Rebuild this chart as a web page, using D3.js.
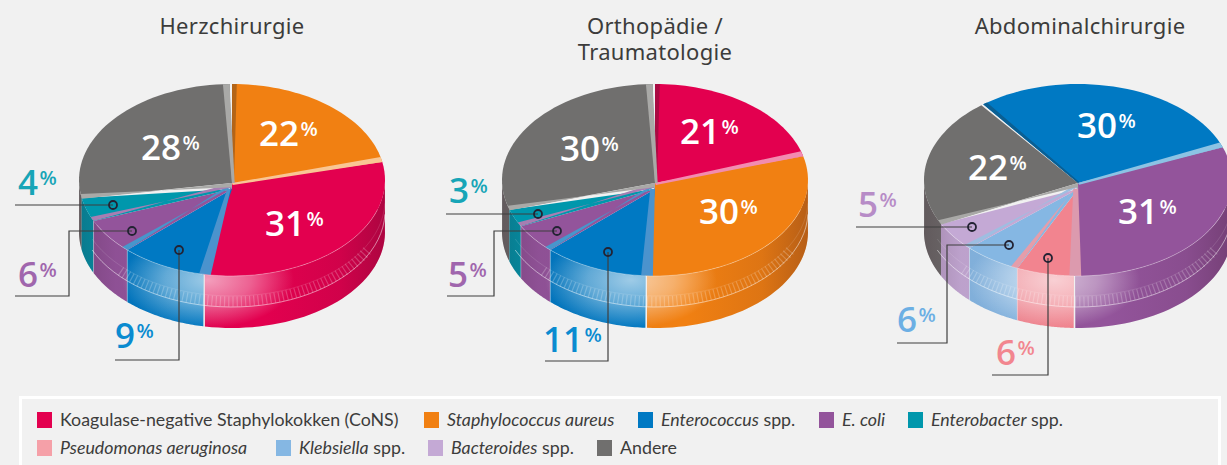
<!DOCTYPE html>
<html><head><meta charset="utf-8">
<script src="https://cdn.jsdelivr.net/npm/d3@7/dist/d3.min.js"></script>
<style>html,body{margin:0;padding:0;background:#f1f1f1;overflow:hidden}svg{display:block}</style>
</head><body><svg id="c" width="1227" height="465"></svg>
<script>
// ---- data ----
const legendNames = ["Koagulase-negative Staphylokokken (CoNS)","Staphylococcus aureus","Enterococcus spp.","E. coli","Enterobacter spp.","Pseudomonas aeruginosa","Klebsiella spp.","Bacteroides spp.","Andere"];
const legendKeys = ["cons","saur","ente","ecol","enba","pseu","kleb","bact","and"];
const herzCats = ["saur","cons","ente","ecol","enba","and"];
const herzVals = [22,31,9,6,4,28];
const orthoCats = ["cons","saur","ente","ecol","enba","and"];
const orthoVals = [21,30,11,5,3,30];
const abdoCats = ["ente","ecol","pseu","kleb","bact","and"];
const abdoVals = [30,31,6,6,5,22];
const pieTitles = [["Herzchirurgie"],["Orthopädie /","Traumatologie"],["Abdominalchirurgie"]];

// ---- styles and layout ----
const color = {cons:"#e3004f",saur:"#f18012",ente:"#0079c3",ecol:"#93549b",enba:"#0097ac",pseu:"#f2848f",kleb:"#85b7e3",bact:"#c4a9d5",and:"#706f6e"};
const legendColor = Object.assign({},color,{pseu:"#f5a0a8"});
const textColor = {ente:"#0a8bd0",ecol:"#a066ad",enba:"#17a5b7",pseu:"#f2868f",kleb:"#6cafe4",bact:"#b78cc7"};
const pieLayout = [
 {cx:232,cy:180,rx:153,ry:96,depth:52,start:0,cats:herzCats,vals:herzVals,
  inner:[[141,160],[259,146],[265,236]], innerIdx:[5,0,1],
  callouts:[{i:4,c:[113,205],path:[[15,205]],t:[18,195]},{i:3,c:[132,231],path:[[69,231],[69,296],[15,296]],t:[18,287]},{i:2,c:[179,250],path:[[179,360],[115,360]],t:[115,348]}]},
 {cx:655,cy:180,rx:153,ry:96,depth:52,start:0,cats:orthoCats,vals:orthoVals,
  inner:[[560,161],[680,144],[699,224]], innerIdx:[5,0,1],
  callouts:[{i:4,c:[538,214],path:[[446,214]],t:[449,203]},{i:3,c:[557,231],path:[[494,231],[494,296],[447,296]],t:[448,287]},{i:2,c:[608,252],path:[[608,361],[545,361]],t:[543,352]}]},
 {cx:1078,cy:180,rx:154,ry:96,depth:52,start:-38,cats:abdoCats,vals:abdoVals,
  inner:[[968,180],[1077,138],[1118,224]], innerIdx:[5,0,1],
  callouts:[{i:4,c:[972,227],path:[[856,227]],t:[858,217]},{i:3,c:[1009,245],path:[[947,245],[947,343],[897,343]],t:[897,332]},{i:2,c:[1048,258],path:[[1048,375],[992,375]],t:[996,365]}]}
];
const deg = Math.PI/180;
const svg = d3.select("#c");
svg.append("rect").attr("width",1227).attr("height",465).attr("fill","#f1f1f1");
const defs = svg.append("defs");
const line = d3.line();
const numFont = "'Open Sans',sans-serif";

pieLayout.forEach((P,pi)=>{
  const X = d3.scaleLinear().domain([-1,1]).range([P.cx-P.rx,P.cx+P.rx]);
  const Y = d3.scaleLinear().domain([-1,1]).range([P.cy-P.ry,P.cy+P.ry]);
  const pt = (a,z=0,r=1)=>[X(r*Math.sin(a)),Y(-r*Math.cos(a))+z];
  const arcPts = (a0,a1,z=0)=>d3.range(0,41).map(k=>pt(a0+(a1-a0)*k/40,z));
  const arcs = d3.pie().sort(null).value(d=>d.v).startAngle(P.start*deg).endAngle((P.start+360)*deg)(P.vals.map((v,i)=>({v,k:P.cats[i]})));
  const g = svg.append("g");
  const apexTop=[P.cx,P.cy+3], apexLow=[P.cx,P.cy+9];

  const shade = defs.append("linearGradient").attr("id","shade"+pi).attr("gradientUnits","userSpaceOnUse")
    .attr("x1",P.cx-P.rx).attr("x2",P.cx+P.rx).attr("y1",0).attr("y2",0);
  [[0,.22],[.12,.05],[.6,0],[.85,.1],[1,.3]].forEach(s=>shade.append("stop").attr("offset",s[0]).attr("stop-color","#301020").attr("stop-opacity",s[1]));
  const hi = defs.append("radialGradient").attr("id","hi"+pi).attr("gradientUnits","userSpaceOnUse")
    .attr("cx",0).attr("cy",0).attr("r",1).attr("gradientTransform",`translate(${P.cx-24},${P.cy+P.ry+4}) scale(86,48)`);
  [[0,.62],[.5,.38],[1,0]].forEach(s=>hi.append("stop").attr("offset",s[0]).attr("stop-color","#fff").attr("stop-opacity",s[1]));

  // walls, back-to-front
  const front0 = 88*deg, front1 = 272*deg;
  const wallData = arcs.map((d,i)=>{
    const gapLeft = i===1 ? 0.6*deg : 0;
    let a0=d.startAngle, a1=d.endAngle-gapLeft;
    if(a1<=front0 || a0>=front1) return null;
    return {d,a0:Math.max(a0,front0),a1:Math.min(a1,front1)};
  }).filter(Boolean).sort((p,q)=>Math.abs(q.a0/2+q.a1/2-Math.PI)-Math.abs(p.a0/2+p.a1/2-Math.PI));
  wallData.forEach(w=>{
    const p = line(arcPts(w.a0,w.a1,0).concat(arcPts(w.a1,w.a0,P.depth)))+"Z";
    g.append("path").attr("d",p).attr("fill",color[w.d.data.k]);
    g.append("path").attr("d",p).attr("fill",`url(#shade${pi})`);
    g.append("path").attr("d",p).attr("fill",`url(#hi${pi})`);
  });
  [3,4].forEach(i=>{
    const a=arcs[i].startAngle;
    g.append("path").attr("d",line([pt(a,0),pt(a,P.depth)])).attr("stroke","#fff").attr("stroke-opacity",.3).attr("stroke-width",1);
  });
  // groove ring on the wall
  const gA0=92*deg, gA1=246*deg, tA0=118*deg, tA1=228*deg;
  g.append("path").attr("d",line(arcPts(gA0,gA1,31))).attr("fill","none").attr("stroke","#fff").attr("stroke-opacity",.5).attr("stroke-width",1);
  g.append("path").attr("d",line(arcPts(gA0,gA1,20))).attr("fill","none").attr("stroke","#fff").attr("stroke-opacity",.12).attr("stroke-width",1);
  g.append("path").attr("d",line(arcPts(tA0,tA1,25.5))).attr("fill","none").attr("stroke","#fff").attr("stroke-opacity",.22).attr("stroke-width",10).attr("stroke-dasharray","1.2 3");

  // top faces
  const smallIdx = new Set([2,3,4]);
  arcs.forEach((d,i)=>{
    const bx = d.endAngle-(i===arcs.length-1?0.9:0)*deg;
    g.append("path").attr("d",line([smallIdx.has(i)?apexLow:apexTop,...arcPts(d.startAngle,bx)])+"Z").attr("fill",color[d.data.k]);
  });
  // cut faces along the wedge edges
  const strip=(a0,a1,fill,low=false)=>{
    const p0=pt(a0),p1=pt(a1), ap=low?apexLow:apexTop;
    const mid=[ap[0]+(p1[0]-p0[0])*.4,ap[1]+(p1[1]-p0[1])*.4];
    g.append("path").attr("d",line(low?[apexTop,p0,p1,mid,ap]:[ap,p0,p1,mid])+"Z").attr("fill",fill);
  };
  const tint=(k,t)=>d3.interpolateRgb(color[k],"#fff")(t);
  const dark=(k,t)=>d3.interpolateRgb(color[k],"#222")(t);
  const lastIdx=arcs.length-1;
  strip(arcs[0].startAngle,arcs[0].startAngle+1.8*deg,dark(arcs[0].data.k,.3));
  strip(arcs[0].endAngle-3*deg,arcs[0].endAngle,tint(arcs[0].data.k,.55));
  [2,3,4].forEach(i=>{
    const a=arcs[i];
    if(i===2) strip(a.startAngle-2.8*deg,a.startAngle+1.6*deg,d3.interpolateRgb(color[a.data.k],"#bbd")(.4),true);
    else strip(a.startAngle,a.startAngle+2.6*deg,d3.interpolateRgb(color[arcs[i-1].data.k],"#ccd")(.35),true);
  });
  strip(arcs[lastIdx].startAngle-0.4*deg,arcs[lastIdx].startAngle+2.4*deg,"#a9a9a7",true);
  if(pi<2) strip(arcs[lastIdx].endAngle-3.4*deg,arcs[lastIdx].endAngle-0.9*deg,"#a9a9a7");
  g.append("path").attr("d",line(arcPts(front0+20*deg,front1-30*deg,0))).attr("fill","none").attr("stroke","#fff").attr("stroke-opacity",.3).attr("stroke-width",1);

  // labels
  const pct=(sel,x,y,num,col,size,psize)=>{
    const t=sel.append("text").attr("x",x).attr("y",y).attr("fill",col).attr("font-family",numFont).attr("font-weight",600).attr("font-size",size).text(num);
    const w=t.node().getComputedTextLength();
    sel.append("text").attr("x",x+w+1.5).attr("y",y-10).attr("fill",col).attr("font-family",numFont).attr("font-weight",600).attr("font-size",psize).text("%");
  };
  P.innerIdx.forEach((idx,j)=>pct(g,P.inner[j][0],P.inner[j][1],arcs[idx].data.v,"#fff",35,20));
  P.callouts.forEach(c=>{
    const d=arcs[c.i];
    g.append("path").attr("d",line([c.c,...c.path])).attr("fill","none").attr("stroke","#3f3f3f").attr("stroke-width",1.2);
    g.append("circle").attr("cx",c.c[0]).attr("cy",c.c[1]).attr("r",4).attr("fill","none").attr("stroke","#232333").attr("stroke-width",1.8);
    pct(g,c.t[0],c.t[1],d.data.v,textColor[d.data.k],35,20);
  });
  const tx=P.cx+(pi===2?2:0);
  const title=svg.append("text").attr("x",tx).attr("y",33.5).attr("text-anchor","middle")
    .attr("font-family","'Noto Sans',sans-serif").attr("font-size",22).attr("fill","#3c3c3b").attr("letter-spacing",.3);
  pieTitles[pi].forEach((l,j)=>title.append("tspan").attr("x",tx).attr("dy",j?26.5:0).text(l));
});

// legend
svg.append("rect").attr("x",20.5).attr("y",397.5).attr("width",1199).attr("height",90).attr("fill","none").attr("stroke","#fff").attr("stroke-width",3);
const legendRows = [[0,1,2,3,4],[5,6,7,8]];
const legendX = [[37,424,638,819,908],[37,276,428,597]];
const legendY = [412,440];
const italicPart = {1:"Staphylococcus aureus",2:"Enterococcus",3:"E. coli",4:"Enterobacter",5:"Pseudomonas aeruginosa",6:"Klebsiella",7:"Bacteroides"};
legendRows.forEach((row,r)=>row.forEach((idx,c)=>{
  const x=legendX[r][c], y=legendY[r];
  svg.append("rect").attr("x",x).attr("y",y).attr("width",15).attr("height",16).attr("fill",legendColor[legendKeys[idx]]);
  const t=svg.append("text").attr("x",x+23).attr("y",y+14).attr("font-family","Lato,sans-serif").attr("font-size",17.8).attr("fill","#3c3c3b");
  const name=legendNames[idx], it=italicPart[idx];
  if(it){t.append("tspan").attr("font-style","italic").text(it);
    const rest=name.slice(it.length); if(rest) t.append("tspan").text(rest);}
  else t.text(name);
}));
</script></body></html>
